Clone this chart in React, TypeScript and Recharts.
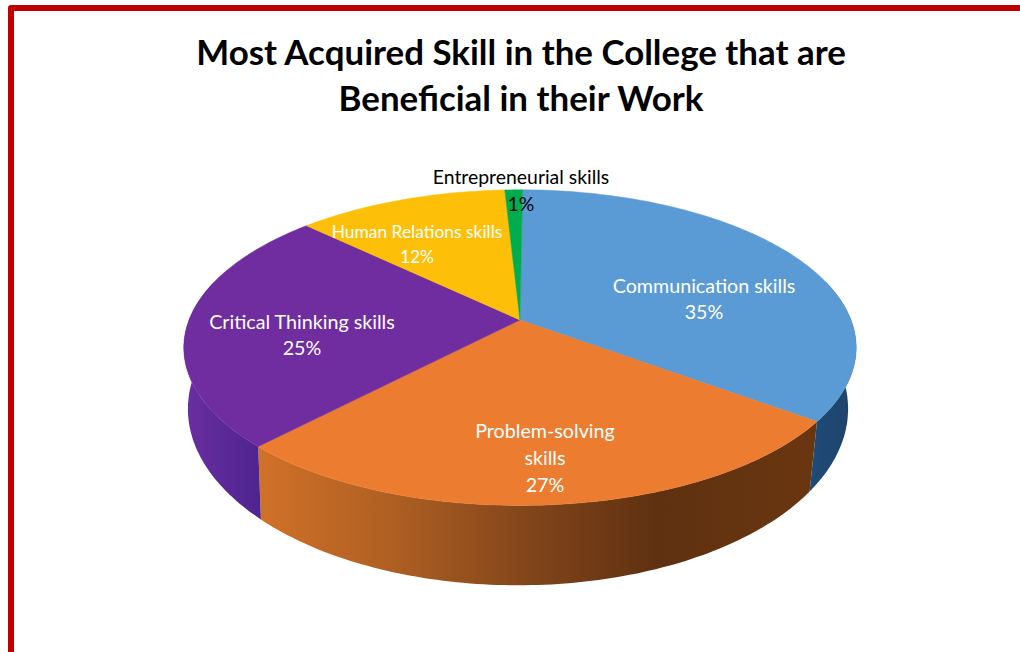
import React from 'react'
import { PieChart, Pie, Cell } from 'recharts'

const TITLE_LINES = ['Most Acquired Skill in the College that are', 'Beneficial in their Work']

const SKILLS = ['Communication skills', 'Problem-solving skills', 'Critical Thinking skills', 'Human Relations skills', 'Entrepreneurial skills']
const SHARES = [35, 27, 25, 12, 1]

const TOP_COLORS = ['#5B9BD5', '#EB7C30', '#6F2DA0', '#FDBF08', '#00AD4E']
const WALL_COLORS = ['url(#wallBlue)', 'url(#wallOrange)', 'url(#wallPurple)', '#BF9000', '#00843C']

// label text: split lines, centre x, first baseline, size and colour per slice
const LABEL_LINES = [['Communication skills'], ['Problem-solving', 'skills'], ['Critical Thinking skills'], ['Human Relations skills'], ['Entrepreneurial skills']]
const LABEL_STYLE = [
  { x: 704, y: 293, size: 19.7, lh: 26, color: '#fff' },
  { x: 545, y: 438, size: 19.7, lh: 27, color: '#fff' },
  { x: 302, y: 329, size: 19.7, lh: 26, color: '#fff' },
  { x: 417, y: 238, size: 17.4, lh: 25, color: '#fff' },
  { x: 521, y: 184, size: 19.4, lh: 27, color: '#000' },
]

const rows = SKILLS.map((name, i) => ({ name, value: SHARES[i] }))

const CX = 520
const CY = 320
const RX = 331
const RY = 153
const TILT = 0.175
// lower rim of the disc
const BOTTOM_CX = 518
const BOTTOM_CY = 378
const BOTTOM_RX = 325
const BOTTOM_RY = 171
const WALL_FROM = 75
const WALL_TO = 285

// theta is degrees clockwise from twelve o'clock, rim is projected with a small perspective
function rimPoint(theta: number, cx: number, cy: number, rx: number, ry: number) {
  const rad = (theta * Math.PI) / 180
  const u = Math.sin(rad)
  const v = -Math.cos(rad)
  const d = 1 - TILT * v
  return [cx + (rx * u) / d, cy + (ry * v) / d]
}

function arc(from: number, to: number, cx: number, cy: number, rx: number, ry: number) {
  const n = Math.max(2, Math.ceil(Math.abs(to - from)))
  const pts: number[][] = []
  for (let i = 0; i <= n; i++) pts.push(rimPoint(from + ((to - from) * i) / n, cx, cy, rx, ry))
  return pts
}

const toPath = (pts: number[][]) => 'M' + pts.map(p => `${p[0].toFixed(1)},${p[1].toFixed(1)}`).join('L') + 'Z'

function TopShape(props: any) {
  const from = 90 - props.startAngle
  const to = 90 - props.endAngle
  const pts = [[CX, CY], ...arc(from, to, CX, CY, RX, RY)]
  return <path d={toPath(pts)} fill={props.fill} stroke={props.fill} strokeWidth={0.5} />
}

function WallShape(props: any) {
  const from = Math.max(90 - props.startAngle, WALL_FROM)
  const to = Math.min(90 - props.endAngle, WALL_TO)
  if (to <= from) return null
  const pts = [...arc(from, to, CX, CY, RX, RY), ...arc(to, from, BOTTOM_CX, BOTTOM_CY, BOTTOM_RX, BOTTOM_RY)]
  return <path d={toPath(pts)} fill={props.fill} />
}

function renderLabel(props: any) {
  const i = props.index
  const s = LABEL_STYLE[i]
  const lines = [...LABEL_LINES[i], `${SHARES[i]}%`]
  return (
    <text key={i} textAnchor="middle" fontFamily="Lato, sans-serif" fontSize={s.size} fill={s.color}>
      {lines.map((line, j) => (
        <tspan key={j} x={s.x} y={s.y + j * s.lh}>{line}</tspan>
      ))}
    </text>
  )
}

export default function App() {
  return (
    <div style={{ position: 'fixed', left: 0, top: 0, width: 1020, height: 652, background: '#fff', overflow: 'hidden' }}>
      <div style={{ position: 'absolute', left: 8, top: 5, width: 1100, height: 800, boxSizing: 'border-box', border: '6px solid #C00000', borderRadius: 3 }} />
      <PieChart width={1020} height={652} style={{ position: 'absolute', left: 0, top: 0 }}>
        <defs>
          <linearGradient id="wallOrange" gradientUnits="userSpaceOnUse" x1={253} y1={0} x2={815} y2={0}>
            <stop offset="0" stopColor="#D27229" />
            <stop offset="0.25" stopColor="#AE5F22" />
            <stop offset="0.5" stopColor="#80441A" />
            <stop offset="0.72" stopColor="#5F3110" />
            <stop offset="1" stopColor="#6A3610" />
          </linearGradient>
          <linearGradient id="wallPurple" gradientUnits="userSpaceOnUse" x1={185} y1={0} x2={260} y2={0}>
            <stop offset="0" stopColor="#6A2EA0" />
            <stop offset="1" stopColor="#4E2490" />
          </linearGradient>
          <linearGradient id="wallBlue" gradientUnits="userSpaceOnUse" x1={812} y1={0} x2={857} y2={0}>
            <stop offset="0" stopColor="#1F4B78" />
            <stop offset="1" stopColor="#1D4269" />
          </linearGradient>
        </defs>
        <Pie data={rows} dataKey="value" nameKey="name" cx={CX} cy={CY} outerRadius={RX} startAngle={89.5} endAngle={-270.5} shape={WallShape} stroke="none" isAnimationActive={false}>
          {rows.map((r, i) => <Cell key={r.name} fill={WALL_COLORS[i]} />)}
        </Pie>
        <Pie data={rows} dataKey="value" nameKey="name" cx={CX} cy={CY} outerRadius={RX} startAngle={89.5} endAngle={-270.5} shape={TopShape} stroke="none" label={renderLabel} labelLine={false} isAnimationActive={false}>
          {rows.map((r, i) => <Cell key={r.name} fill={TOP_COLORS[i]} />)}
        </Pie>
      </PieChart>
      <div style={{ position: 'absolute', left: 0, top: 29, width: 1042, textAlign: 'center', fontFamily: 'Lato, sans-serif', fontWeight: 700, fontSize: 34.9, lineHeight: '46px', color: '#000' }}>
        {TITLE_LINES.map(t => <div key={t}>{t}</div>)}
      </div>
    </div>
  )
}
